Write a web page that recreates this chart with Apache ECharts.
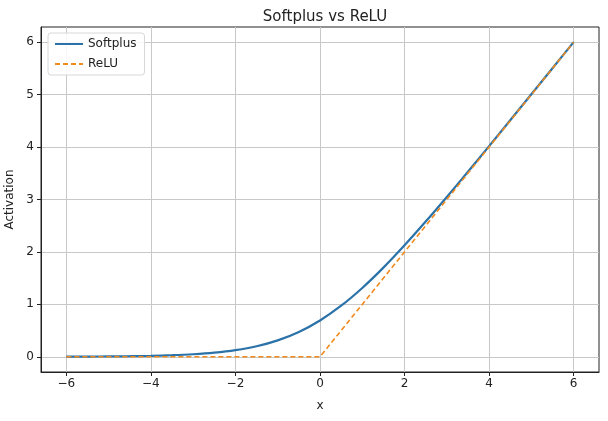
<!DOCTYPE html>
<html>
<head>
<meta charset="utf-8">
<script src="https://cdn.jsdelivr.net/npm/echarts@6/dist/echarts.min.js"></script>
<style>
  html, body { margin: 0; padding: 0; background: #fff; }
  #chart { width: 608px; height: 421px; }
</style>
</head>
<body>
<div id="chart"></div>
<script>
// values
const xs = [-6, -5.5, -5, -4.5, -4, -3.5, -3, -2.5, -2, -1.5, -1, -0.5, 0,
            0.5, 1, 1.5, 2, 2.5, 3, 3.5, 4, 4.5, 5, 5.5, 6];
const softplusY = [0.003, 0.004, 0.007, 0.011, 0.018, 0.03, 0.049, 0.079, 0.127, 0.201, 0.313, 0.474, 0.693,
                   0.974, 1.313, 1.701, 2.127, 2.579, 3.049, 3.53, 4.018, 4.511, 5.007, 5.504, 6.002];
const reluX = [-6, 0, 6];
const reluY = [0, 0, 6];
const xTicks = [-6, -4, -2, 0, 2, 4, 6];
const yTicks = [0, 1, 2, 3, 4, 5, 6];

const font = 'DejaVu Sans';
const chart = echarts.init(document.getElementById('chart'), null, { renderer: 'canvas' });

const pairs = (a, b) => a.map((v, i) => [v, b[i]]);

chart.setOption({
  animation: false,
  backgroundColor: '#fff',
  textStyle: { fontFamily: font },
  title: {
    text: 'Softplus vs ReLU',
    left: 320, top: 5, textAlign: 'center',
    textStyle: { fontSize: 15, fontWeight: 'normal', color: '#222', fontFamily: font }
  },
  grid: { left: 41, right: 9, top: 27, bottom: 49, show: true, borderColor: '#222', borderWidth: 1,
          outerBoundsMode: 'none', containLabel: false },
  legend: {
    left: 48, top: 33, orient: 'vertical',
    itemWidth: 28, itemHeight: 10, itemGap: 8,
    padding: [5, 8, 5, 6],
    borderColor: '#d8d8d8', borderWidth: 1, borderRadius: 3,
    backgroundColor: 'rgba(255,255,255,0.85)',
    itemStyle: { opacity: 0 },
    textStyle: { fontSize: 12, color: '#222', fontFamily: font },
    data: ['Softplus', 'ReLU']
  },
  xAxis: {
    type: 'value', min: -6.6, max: 6.6,
    name: 'x', nameLocation: 'middle', nameGap: 28,
    nameTextStyle: { fontSize: 12, color: '#222', fontFamily: font },
    axisLine: { show: true, onZero: false, lineStyle: { color: '#222' } },
    axisTick: { show: true, length: 4, customValues: xTicks, lineStyle: { color: '#222' } },
    axisLabel: { customValues: xTicks, fontSize: 12, color: '#222', fontFamily: font, margin: 6,
                 formatter: v => (v < 0 ? '\u2212' + (-v) : String(v)) },
    splitLine: { show: true, lineStyle: { color: '#c8c8c8', width: 1 } }
  },
  yAxis: {
    type: 'value', min: -0.29, max: 6.29,
    name: 'Activation', nameLocation: 'middle', nameGap: 23,
    nameTextStyle: { fontSize: 12, color: '#222', fontFamily: font },
    axisLine: { show: true, onZero: false, lineStyle: { color: '#222' } },
    axisTick: { show: true, length: 4, customValues: yTicks, lineStyle: { color: '#222' } },
    axisLabel: { customValues: yTicks, fontSize: 12, color: '#222', fontFamily: font, margin: 7 },
    splitLine: { show: true, lineStyle: { color: '#c8c8c8', width: 1 } }
  },
  series: [
    {
      name: 'Softplus', type: 'line', smooth: 0.3, symbol: 'none',
      data: pairs(xs, softplusY),
      lineStyle: { color: '#2a72a8', width: 2.2 },
      itemStyle: { color: '#2a72a8' }
    },
    {
      name: 'ReLU', type: 'line', symbol: 'none',
      data: pairs(reluX, reluY),
      lineStyle: { color: '#f08a1c', width: 1.6, type: [5, 3] },
      itemStyle: { color: '#f08a1c' }
    }
  ]
});
</script>
</body>
</html>
